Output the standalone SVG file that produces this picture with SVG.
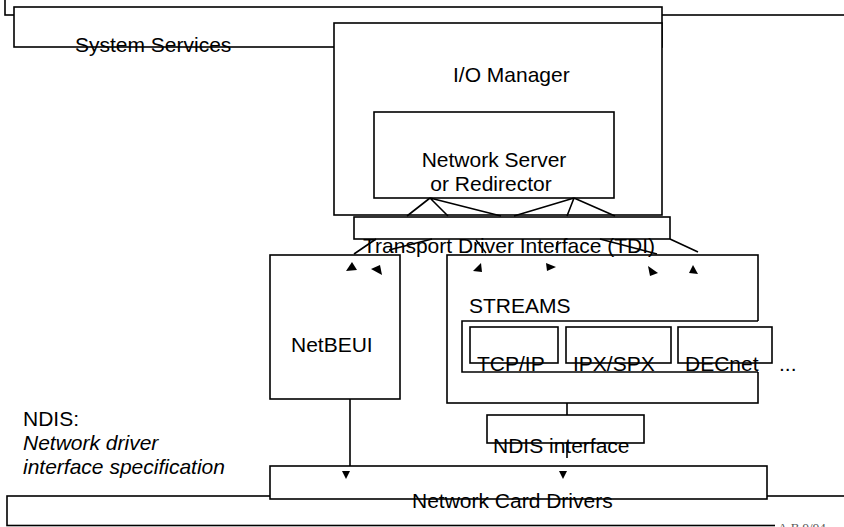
<svg xmlns="http://www.w3.org/2000/svg" width="844" height="527" viewBox="0 0 844 527">
<style>
.b{fill:#fff;stroke:#000;stroke-width:1.6}
.l{fill:none;stroke:#000;stroke-width:1.6}
.t{font-family:"Liberation Sans",Arial,sans-serif;font-size:21px;fill:#000}
.i{font-style:italic}
.a{fill:#000;stroke:none}
</style>
<rect width="844" height="527" fill="#fff"/>
<g id="background-frame"><rect class="b" x="5" y="-20" width="860" height="35"/></g>
<g id="system-services"><rect class="b" x="14" y="7" width="648" height="40"/></g>
<g id="io-manager"><rect class="b" x="334" y="23" width="328" height="192"/>
<text class="t" x="453" y="82">I/O Manager</text></g>
<g id="network-server"><rect class="b" x="374" y="112" width="240" height="86"/>
<text class="t" x="494" y="167" text-anchor="middle">Network Server</text>
<text class="t" x="491" y="191" text-anchor="middle">or Redirector</text></g>
<g id="tdi"><rect class="b" x="354" y="217" width="316" height="22"/></g>
<g id="connectors">
<path class="l" d="M430,198 L407,216 M430,198 L448,216 M430,198 L501,216 M574,198 L567,216 M574,198 L615,216 M574,198 L514,216"/>
<path class="l" d="M376,239 L354,254 M432,239 L389,250 M476,240 L486,253 M558,241 L556,250 M600,239 L657,254 M670,239 L698,252"/>
<path class="l" d="M350,399 V467 M567,403 V415 M567,443 V458"/>
</g>
<g id="netbeui"><rect class="b" x="270" y="255" width="130" height="144"/>
<text class="t" x="291" y="352">NetBEUI</text></g>
<g id="streams"><rect class="b" x="447" y="255" width="311" height="148"/>
<rect x="462" y="321" width="297" height="51" fill="#fff"/>
<path class="l" d="M758,321 H462 V372 H758"/>
<text class="t" x="469" y="313">STREAMS</text></g>
<g id="tcpip"><rect class="b" x="470" y="327" width="88" height="36"/>
<text class="t" x="477" y="371">TCP/IP</text></g>
<g id="ipxspx"><rect class="b" x="566" y="327" width="105" height="36"/>
<text class="t" x="573" y="371">IPX/SPX</text></g>
<g id="decnet"><rect class="b" x="678" y="327" width="94" height="36"/>
<text class="t" x="685" y="371">DECnet</text>
<text class="t" x="779" y="371">...</text></g>
<g id="ndis-interface"><rect class="b" x="487" y="415" width="157" height="28"/>
<text class="t" x="493" y="453">NDIS interface</text></g>
<g id="bottom-frame"><rect class="b" x="7" y="496" width="860" height="29.5"/>
<rect x="775" y="517" width="69" height="10" fill="#fff"/>
<text x="778" y="532" font-family="Liberation Serif,serif" font-size="13" fill="#555">A.B 9/94</text></g>
<g id="network-card-drivers"><rect class="b" x="270" y="466" width="497" height="33"/>
<text class="t" x="412" y="508">Network Card Drivers</text></g>
<g id="labels">
<text class="t" x="75" y="52">System Services</text>
<text class="t" x="363" y="253">Transport Driver Interface (TDI)</text>
<text class="t" x="23" y="426">NDIS:</text>
<text class="t i" x="23" y="450">Network driver</text>
<text class="t i" x="23" y="474">interface specification</text>
</g>
<g id="arrowheads">
<polygon class="a" points="352,262 346,271 357,270"/>
<polygon class="a" points="371,269 380,265 382,275"/>
<polygon class="a" points="473,271 481,263 482,272"/>
<polygon class="a" points="546,263 556,267 547,271"/>
<polygon class="a" points="648,266 658,273 650,276"/>
<polygon class="a" points="693,265 689,273 698,274"/>
<polygon class="a" points="342,471 350,471 346,479"/>
<polygon class="a" points="559,471 567,471 563,479"/>
</g>
</svg>
